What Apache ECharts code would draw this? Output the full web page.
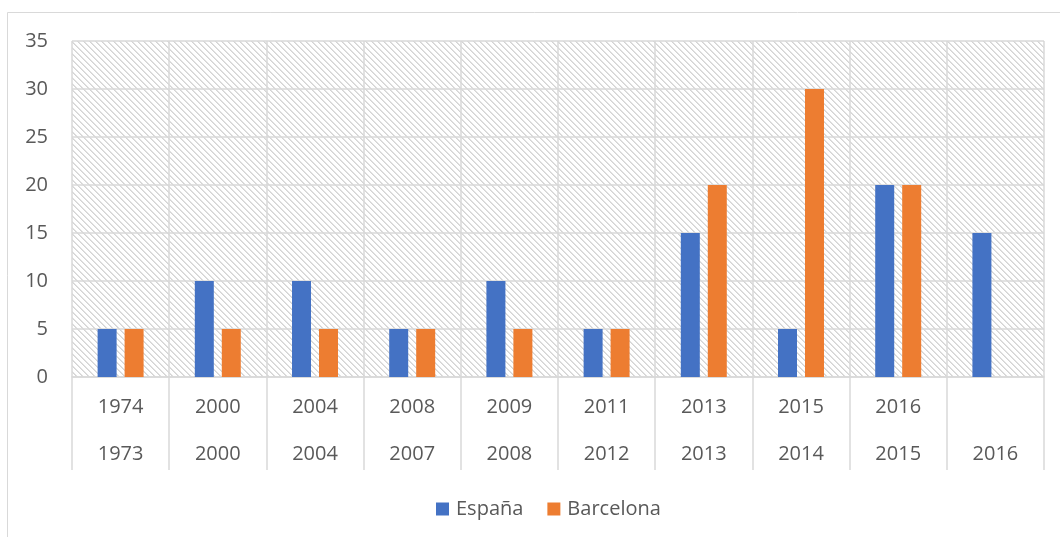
<!DOCTYPE html>
<html>
<head>
<meta charset="utf-8">
<script src="https://cdn.jsdelivr.net/npm/echarts@6/dist/echarts.min.js"></script>
<style>
html,body{margin:0;padding:0;background:#fff;}
#chart{width:1060px;height:537px;}
</style>
</head>
<body>
<div id="chart"></div>
<script>
const topLabels = ['1974','2000','2004','2008','2009','2011','2013','2015','2016',''];
const bottomLabels = ['1973','2000','2004','2007','2008','2012','2013','2014','2015','2016'];
const espana = [5,10,10,5,10,5,15,5,20,15];
const barcelona = [5,5,5,5,5,5,20,30,20,null];
const yTicks = {min:0, max:35, interval:5};

// hatch pattern
const pc = document.createElement('canvas');
pc.width = 6; pc.height = 6;
const pctx = pc.getContext('2d');
pctx.fillStyle = '#ffffff';
pctx.fillRect(0,0,6,6);
const img = pctx.getImageData(0,0,6,6);
for (let y=0;y<6;y++){
  for (let x=0;x<6;x++){
    const d = ((x - y) % 6 + 6) % 6;
    if (d < 2) {
      const i = (y*6+x)*4;
      const c = (d === 0) ? 212 : 226;
      img.data[i]=c; img.data[i+1]=c; img.data[i+2]=c; img.data[i+3]=255;
    }
  }
}
pctx.putImageData(img,0,0);

const font = '"Open Sans", "Liberation Sans", sans-serif';
const txt = '#595959';
const gridColor = '#d9d9d9';

const chart = echarts.init(document.getElementById('chart'));
chart.setOption({
  animation:false,
  backgroundColor:'#ffffff',
  textStyle:{fontFamily:font},
  graphic:[{
    type:'rect', z:-10, silent:true,
    shape:{x:7.5,y:12.5,width:1200,height:700},
    style:{fill:'none',stroke:gridColor,lineWidth:1}
  }],
  grid:{
    left:72, right:16, top:41, bottom:160,
    show:true, borderWidth:0,
    backgroundColor:{image:pc, repeat:'repeat'}
  },
  legend:{
    left:431, top:494,
    itemWidth:13, itemHeight:13, itemGap:24,
    icon:'rect',
    textStyle:{fontSize:20, color:txt, fontFamily:font, padding:[0,0,0,2]},
    data:['España','Barcelona']
  },
  xAxis:[{
    type:'category',
    data:topLabels,
    position:'bottom',
    axisLine:{show:true, lineStyle:{color:gridColor, width:1.5}},
    axisTick:{show:true, length:93, interval:0, lineStyle:{color:gridColor, width:1.5}},
    axisLabel:{interval:0, margin:20, fontSize:20, color:txt, fontFamily:font},
    splitLine:{show:true, interval:0, lineStyle:{color:gridColor, width:1.5}}
  },{
    type:'category',
    data:bottomLabels,
    position:'bottom',
    axisLine:{show:false},
    axisTick:{show:false},
    axisLabel:{interval:0, margin:67, fontSize:20, color:txt, fontFamily:font},
    splitLine:{show:false}
  }],
  yAxis:{
    type:'value',
    min:yTicks.min, max:yTicks.max, interval:yTicks.interval,
    axisLine:{show:false},
    axisTick:{show:false},
    axisLabel:{margin:24, fontSize:20, color:txt, fontFamily:font},
    splitLine:{show:true, lineStyle:{color:gridColor, width:1.5}}
  },
  series:[{
    name:'España', type:'bar', xAxisIndex:0,
    data:espana, barWidth:19, barGap:'42%',
    itemStyle:{color:'#4472C4'}
  },{
    name:'Barcelona', type:'bar', xAxisIndex:0,
    data:barcelona, barWidth:19, barGap:'42%',
    itemStyle:{color:'#ED7D31'}
  }]
});
</script>
</body>
</html>
